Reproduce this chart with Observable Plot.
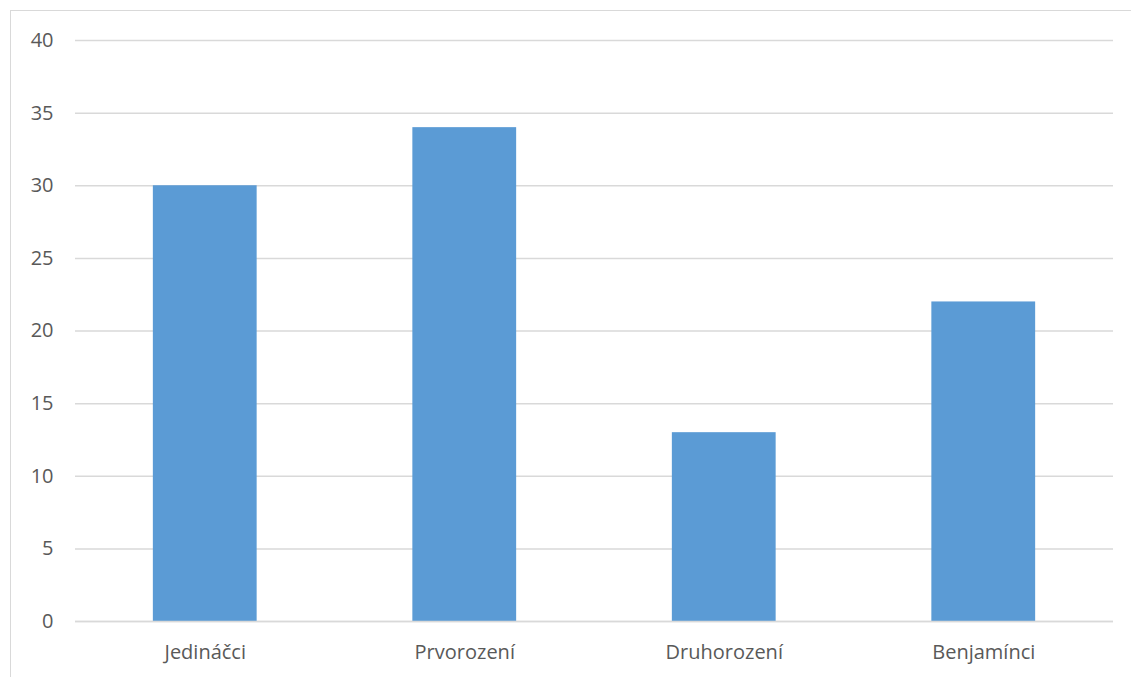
<!DOCTYPE html>
<html>
<head>
<meta charset="utf-8">
<script src="https://cdn.jsdelivr.net/npm/d3@7"></script>
<script src="https://cdn.jsdelivr.net/npm/@observablehq/plot@0.6"></script>
<style>
  html, body { margin: 0; padding: 0; background: #fff; }
  #wrap { position: relative; width: 1131px; height: 677px; overflow: hidden; }
  #border { position: absolute; left: 10px; top: 10px; width: 1200px; height: 700px;
            border-left: 1px solid #d9d9d9; border-top: 1px solid #d9d9d9; box-sizing: border-box; }
  #chart { position: absolute; left: 0; top: 0; }
  svg { font-family: "Open Sans", "Liberation Sans", sans-serif; }
</style>
</head>
<body>
<div id="wrap"><div id="border"></div><div id="chart"></div></div>
<script>
const categories = ["Jedináčci", "Prvorození", "Druhorození", "Benjamínci"];
const values = [30, 34, 13, 22];
const yTicks = [0, 5, 10, 15, 20, 25, 30, 35, 40];

const data = categories.map((c, i) => ({category: c, value: values[i]}));

const chart = Plot.plot({
  width: 1131,
  height: 677,
  marginLeft: 75,
  marginRight: 18,
  marginTop: 40,
  marginBottom: 56,
  style: {fontSize: "20px", color: "#595959", background: "transparent"},
  x: {domain: categories, paddingInner: 0.6, paddingOuter: 0.3, label: null, round: false},
  y: {domain: [0, 40], ticks: yTicks, label: null},
  marks: [
    Plot.gridY(yTicks, {stroke: "#d9d9d9", strokeOpacity: 1, strokeWidth: 1.5}),
    Plot.barY(data, {x: "category", y: "value", fill: "#5b9bd5"}),
    Plot.ruleY([0], {stroke: "#d9d9d9", strokeWidth: 1.5}),
    Plot.axisX({tickSize: 0, tickPadding: 23, fill: "#595959", fontSize: 20}),
    Plot.axisY({ticks: yTicks, tickSize: 0, tickPadding: 22, fill: "#595959", fontSize: 20})
  ]
});
document.getElementById("chart").appendChild(chart);
</script>
</body>
</html>
